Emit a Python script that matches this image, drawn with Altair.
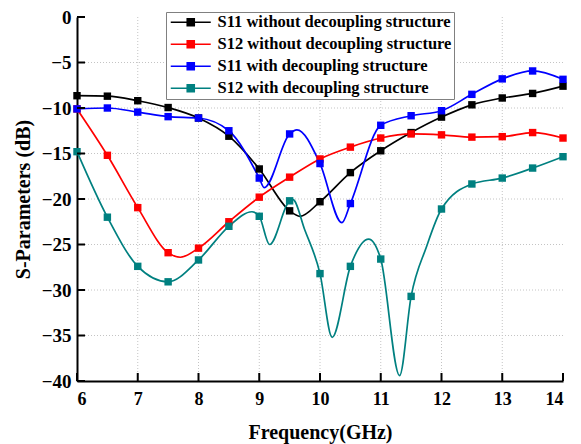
import altair as alt
import pandas as pd

# Frequencies of the marked samples (GHz)
freq = [6.0, 6.5, 7.0, 7.5, 8.0, 8.5, 9.0, 9.5, 10.0, 10.5, 11.0, 11.5, 12.0, 12.5, 13.0, 13.5, 14.0]

names = [
    "S11 without decoupling structure",
    "S12 without decoupling structure",
    "S11 with decoupling structure",
    "S12 with decoupling structure",
]
colors = ["#000000", "#ff0000", "#0000ff", "#008080"]

# Marked values (dB)
s11_without = [-8.65, -8.7, -9.2, -9.95, -11.1, -13.1, -16.7, -21.3, -20.3, -17.1,
               -14.7, -12.7, -11.0, -9.65, -8.9, -8.4, -7.6]
s12_without = [-10.1, -15.2, -20.95, -25.9, -25.4, -22.5, -19.8, -17.6, -15.6, -14.3,
               -13.3, -12.85, -12.95, -13.2, -13.15, -12.7, -13.3]
s11_with = [-10.1, -10.0, -10.45, -10.95, -11.1, -12.5, -17.7, -12.85, -16.1, -20.5,
            -11.9, -10.85, -10.3, -8.5, -6.8, -5.93, -6.85]
s12_with = [-14.8, -22.0, -27.4, -29.1, -26.7, -23.0, -21.9, -20.2, -28.2, -27.4,
            -26.6, -30.7, -21.1, -18.35, -17.7, -16.6, -15.35]

# Resonance points between the marked samples (frequency, dB)
s11_without_extra_f = [9.67]
s11_without_extra_v = [-21.9]
s12_without_extra_f = [7.7]
s12_without_extra_v = [-26.4]
s11_with_extra_f = [9.08, 9.62, 10.36]
s11_with_extra_v = [-18.75, -12.4, -22.6]
s12_with_extra_f = [8.88, 9.17, 9.55, 9.75, 10.2, 10.8, 11.31, 11.75]
s12_with_extra_v = [-21.4, -25.0, -20.05, -23.4, -35.2, -24.4, -39.4, -25.3]

x_ticks = [6, 7, 8, 9, 10, 11, 12, 13, 14]
y_ticks = [-40, -35, -30, -25, -20, -15, -10, -5, 0]
x_grid = [7, 8, 9, 10, 11, 12, 13]
y_grid = [-35, -30, -25, -20, -15, -10, -5]

series_values = [s11_without, s12_without, s11_with, s12_with]
series_extra = [
    (s11_without_extra_f, s11_without_extra_v),
    (s12_without_extra_f, s12_without_extra_v),
    (s11_with_extra_f, s11_with_extra_v),
    (s12_with_extra_f, s12_with_extra_v),
]

pts_rows, line_rows = [], []
for k, (name, vals) in enumerate(zip(names, series_values)):
    for f, v in zip(freq, vals):
        pts_rows.append({"freq": f, "db": v, "series": name, "order": k})
        line_rows.append({"freq": f, "db": v, "series": name, "order": k})
    ef, ev = series_extra[k]
    for f, v in zip(ef, ev):
        line_rows.append({"freq": f, "db": v, "series": name, "order": k})

df_pts = pd.DataFrame(pts_rows)
df_line = pd.DataFrame(line_rows).sort_values(["order", "freq"]).reset_index(drop=True)

FONT = "Liberation Serif"
W, H = 486, 364

xscale = alt.Scale(domain=[6, 14], nice=False, zero=False)
yscale = alt.Scale(domain=[-40, 0], nice=False, zero=False)
cscale = alt.Scale(domain=names, range=colors)

# legend symbol: a short line with a filled square in the middle
sym_path = "M-3.43,0H3.43M-0.6,-0.6H0.6V0.6H-0.6Z"
legend = alt.Legend(
    title=None,
    orient="none",
    legendX=89,
    legendY=-5,
    symbolType=sym_path,
    symbolSize=136,
    symbolStrokeWidth=1.6,
    symbolOffset=14.5,
    labelOffset=18.5,
    labelFont=FONT,
    labelFontWeight="bold",
    labelFontSize=16.5,
    labelColor="black",
    labelLimit=400,
    rowPadding=5,
    padding=2,
    strokeColor="#808080",
    fillColor="white",
    values=names,
)

x_axis = alt.Axis(
    values=x_ticks, format="d", title="Frequency(GHz)", grid=False, ticks=False,
    tickSize=0, labelPadding=9, titlePadding=14,
)
y_axis = alt.Axis(
    values=y_ticks, format="d", title="S-Parameters (dB)", grid=False, ticks=False,
    tickSize=0, labelPadding=6, titlePadding=8, labelFontSize=19,
)

grid_x = alt.Chart(pd.DataFrame({"g": x_grid})).mark_rule(
    color="#c4c4c4", strokeDash=[1, 2], strokeWidth=1
).encode(x=alt.X("g:Q", scale=xscale, axis=x_axis))

grid_y = alt.Chart(pd.DataFrame({"g": y_grid})).mark_rule(
    color="#c4c4c4", strokeDash=[1, 2], strokeWidth=1
).encode(y=alt.Y("g:Q", scale=yscale, axis=y_axis))

lines = alt.Chart(df_line).mark_line(interpolate="monotone", strokeWidth=1.7).encode(
    x=alt.X("freq:Q", scale=xscale, axis=x_axis),
    y=alt.Y("db:Q", scale=yscale, axis=y_axis),
    color=alt.Color("series:N", scale=cscale, legend=legend),
    detail="series:N",
    order="freq:Q",
)

points = alt.Chart(df_pts).mark_square(size=55, opacity=1, filled=True).encode(
    x=alt.X("freq:Q", scale=xscale, axis=x_axis),
    y=alt.Y("db:Q", scale=yscale, axis=y_axis),
    color=alt.Color("series:N", scale=cscale, legend=legend),
)

# inward tick marks along both axes
ticks_x = alt.Chart(pd.DataFrame({"t": x_ticks})).mark_rule(color="black", strokeWidth=2).encode(
    x=alt.X("t:Q", scale=xscale, axis=x_axis), y=alt.value(H), y2=alt.value(H - 8)
)
ticks_y = alt.Chart(pd.DataFrame({"t": y_ticks})).mark_rule(color="black", strokeWidth=2).encode(
    y=alt.Y("t:Q", scale=yscale, axis=y_axis), x=alt.value(0), x2=alt.value(8)
)

chart = alt.layer(grid_x, grid_y, lines, points, ticks_x, ticks_y).properties(
    width=W,
    height=H,
    padding={"left": 77, "top": 17, "right": 18, "bottom": 63},
    autosize=alt.AutoSizeParams(type="none"),
    background="white",
).configure_view(stroke=None).configure_axis(
    domainColor="black",
    domainWidth=2,
    labelFont=FONT,
    labelFontWeight="bold",
    labelFontSize=18,
    labelColor="black",
    titleFont=FONT,
    titleFontWeight="bold",
    titleFontSize=20,
    titleColor="black",
)

chart.save("out.html", embed_options={"renderer": "svg", "actions": False})
